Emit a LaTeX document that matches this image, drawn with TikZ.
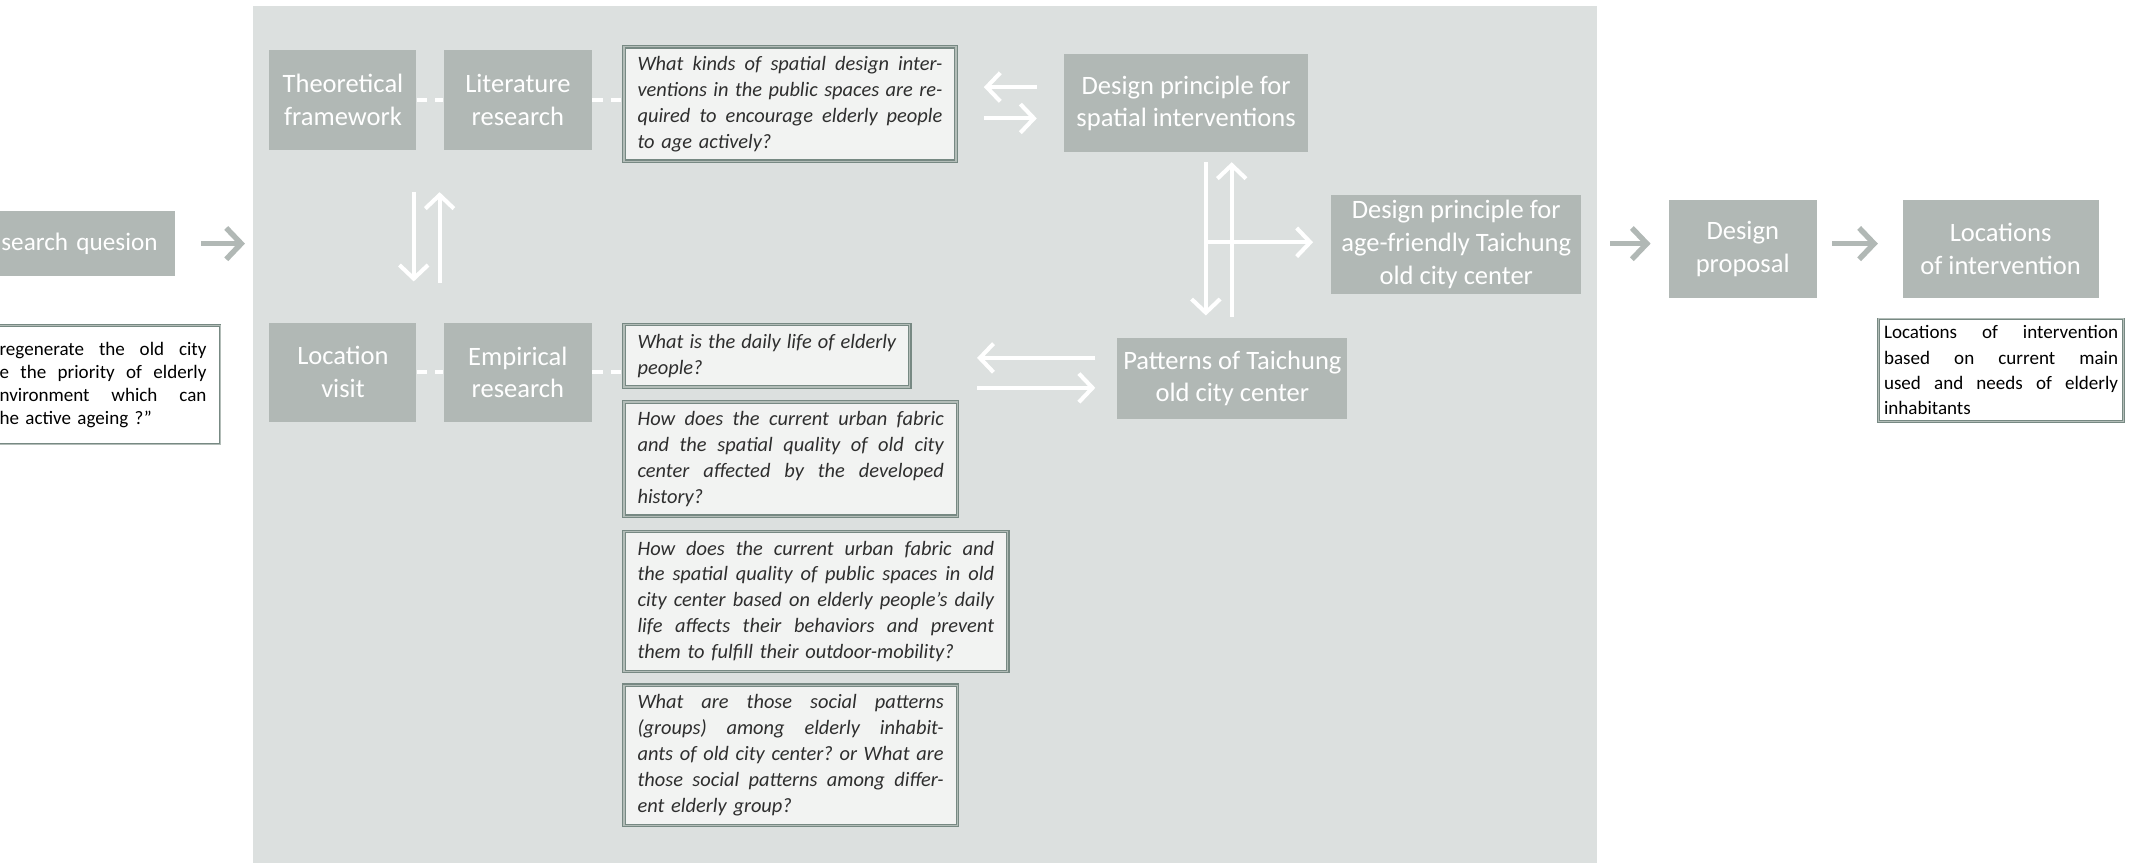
\documentclass[tikz,border=0pt]{standalone}
\usepackage{fontspec}
\setmainfont{Carlito}
\usetikzlibrary{arrows.meta}
\definecolor{panelbg}{HTML}{DCE0DF}
\definecolor{boxgray}{HTML}{B1B8B5}
\definecolor{qfill}{HTML}{F2F3F2}
\definecolor{qline}{HTML}{778983}
\definecolor{qmid}{HTML}{B3BDB8}
\definecolor{qtext}{HTML}{2E2E2E}
% one fully justified line: word spaces stretch to the given width
\newcommand\jbox[2]{{\spaceskip=0pt\xspaceskip=0pt\makebox[#1][s]{#2}}}
\newcommand\jline[1]{\jbox{\hsize}{#1}}
\begin{document}
\begin{tikzpicture}[x=1pt,y=-1pt,
  gbox/.style={fill=boxgray, text=white, font=\fontsize{19.5}{24}\selectfont,
    align=center, inner sep=0pt},
  qbox/.style={draw=qline, double=qmid, line width=0.9pt, double distance=0.9pt,
    fill=qfill, text=qtext,
    font=\fontsize{15}{19}\selectfont\itshape\frenchspacing, inner xsep=10pt, inner ysep=7pt,
    align=left, anchor=north west},
  notebox/.style={draw=qline, double=qmid, line width=0.6pt, double distance=0.6pt,
    fill=white, text=black},
  wdash/.style={draw=white, line width=2.7pt, dash pattern=on 7.5pt off 6pt},
  warrow/.style={draw=white, line width=3pt, -{Straight Barb[length=10pt,width=21pt]}},
  garrow/.style={draw=boxgray, line width=4pt, -{Straight Barb[length=11pt,width=23pt]}},
]
\useasboundingbox (0,0) rectangle (1568,634);
\clip (0,0) rectangle (1568,634);

% grey working panel
\node[fill=panelbg, inner sep=0pt, minimum width=987pt, minimum height=650pt,
  anchor=north west] (panel) at (186,4) {};

% research question (left)
\node[gbox, anchor=east, minimum height=48pt, text width=160pt, inner xsep=13pt,
  align=right, font=\fontsize{18.5}{24}\selectfont] (rq) at (129,179) {search quesion};
\node[notebox, anchor=north east, text width=192pt, inner xsep=10pt, inner ysep=3pt,
  minimum height=87pt, align=right, font=\fontsize{14}{17}\selectfont\frenchspacing] (quote) at (162,239)
  {\jbox{152pt}{regenerate the old city}\\
   \jbox{152pt}{e the priority of elderly}\\
   \jbox{152pt}{nvironment which can}\\
   \makebox[152pt][l]{he active ageing ?”}};

% methods
\node[gbox, minimum width=108pt, minimum height=73pt] (th)  at (252,73.5) {Theoretical\\framework};
\node[gbox, minimum width=109pt, minimum height=73pt] (lit) at (380.5,73.5) {Literature\\research};
\node[gbox, minimum width=108pt, minimum height=73pt] (loc) at (252,273.5) {Location\\visit};
\node[gbox, minimum width=109pt, minimum height=73pt] (emp) at (380.5,273.5) {Empirical\\research};

% research sub-questions
\node[qbox, text width=224pt] (q1) at (458,34)
  {\jline{What kinds of spatial design inter-}\\
   \jline{ventions in the public spaces are re-}\\
   \jline{quired to encourage elderly people}\\
   to age actively?};
\node[qbox, text width=190pt] (q2) at (458,238)
  {\jline{What is the daily life of elderly}\\
   people?};
\node[qbox, text width=225pt] (q3) at (458,295)
  {\jline{How does the current urban fabric}\\
   \jline{and the spatial quality of old city}\\
   \jline{center affected by the developed}\\
   history?};
\node[qbox, text width=262pt] (q4) at (458,390)
  {\jline{How does the current urban fabric and}\\
   \jline{the spatial quality of public spaces in old}\\
   \jline{city center based on elderly people’s daily}\\
   \jline{life affects their behaviors and prevent}\\
   them to fulfill their outdoor-mobility?};
\node[qbox, text width=225pt] (q5) at (458,503)
  {\jline{What are those social patterns}\\
   \jline{(groups) among elderly inhabit-}\\
   \jline{ants of old city center? or What are}\\
   \jline{those social patterns among differ-}\\
   ent elderly group?};

% outcomes
\node[gbox, minimum width=179pt, minimum height=72pt] (dps) at (871.5,76) {Design principle for\\spatial interventions};
\node[gbox, minimum width=169pt, minimum height=60pt] (pat) at (905.5,278) {Patterns of Taichung\\old city center};
\node[gbox, minimum width=184pt, minimum height=73pt] (dpa) at (1070,179.5) {Design principle for\\age-friendly Taichung\\old city center};
\node[gbox, minimum width=109pt, minimum height=72pt] (dp) at (1280.5,183) {Design\\proposal};
\node[gbox, minimum width=144pt, minimum height=72pt] (li) at (1470,183) {Locations\\of intervention};
\node[notebox, anchor=north west, text width=172pt, inner xsep=4pt, inner ysep=5pt,
  align=left, font=\fontsize{14}{18.5}\selectfont\frenchspacing] (desc) at (1380,234)
  {\jline{Locations of intervention}\\
   \jline{based on current main}\\
   \jline{used and needs of elderly}\\
   inhabitants};

% dashed links between methods and questions
\draw[wdash] (th.east) -- (lit.west);
\draw[wdash] (lit.east) -- (lit.east -| q1.west);
\draw[wdash] (loc.east) -- (loc.east -| emp.west);
\draw[wdash] (emp.east) -- (emp.east -| q2.west);

% theory <-> empirical
\coordinate (dn) at (304,0);
\coordinate (up) at (323,0);
\draw[warrow, shorten <=31pt, shorten >=30pt] (th.south -| dn) -- (loc.north -| dn);
\draw[warrow, shorten <=29pt, shorten >=31pt] (loc.north -| up) -- (th.south -| up);

% questions <-> outcomes
\coordinate (ya) at (0,64);
\coordinate (yb) at (0,87);
\draw[warrow, shorten <=20pt, shorten >=20pt] (dps.west |- ya) -- (q1.east |- ya);
\draw[warrow, shorten <=20pt, shorten >=20pt] (q1.east |- yb) -- (dps.west |- yb);
\coordinate (yc) at (0,263);
\coordinate (yd) at (0,285);
\draw[warrow, shorten <=16pt, shorten >=49pt] (pat.west |- yc) -- (q2.east |- yc);
\draw[warrow, shorten <=49pt, shorten >=16pt] (q2.east |- yd) -- (pat.west |- yd);

% outcomes -> synthesis
\coordinate (vd) at (886,0);
\coordinate (vu) at (905,0);
\coordinate (hj) at (886,178);
\draw[warrow, shorten <=7pt, shorten >=16pt] (dps.south -| vd) -- (pat.north -| vd);
\draw[warrow, shorten <=15pt, shorten >=7pt] (pat.north -| vu) -- (dps.south -| vu);
\draw[warrow, shorten >=13pt] (hj) -- (hj -| dpa.west);

% main flow
\coordinate (flow) at (0,179);
\draw[garrow, shorten <=19pt, shorten >=6pt] (rq.east |- flow) -- (flow -| panel.west);
\draw[garrow, shorten <=21pt, shorten >=13pt] (dpa.east |- flow) -- (dp.west |- flow);
\draw[garrow, shorten <=11pt, shorten >=18pt] (dp.east |- flow) -- (li.west |- flow);
\end{tikzpicture}
\end{document}
